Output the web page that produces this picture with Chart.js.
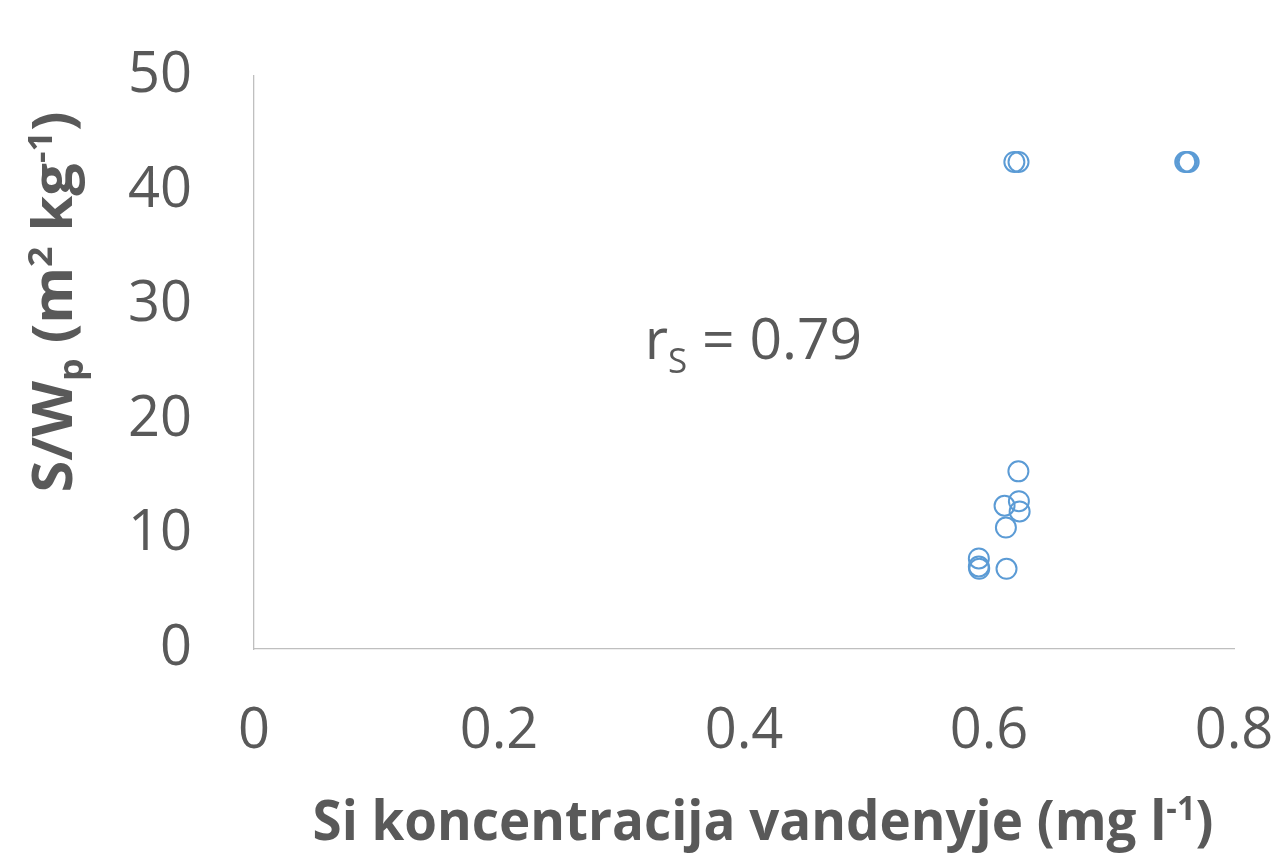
<!DOCTYPE html>
<html>
<head>
<meta charset="utf-8">
<title>S/Wp vs Si</title>
<script src="https://cdn.jsdelivr.net/npm/chart.js@4.4.1/dist/chart.umd.min.js"></script>
<style>
  html, body { margin: 0; padding: 0; background: #ffffff; }
  #wrap { width: 1288px; height: 853px; }
</style>
</head>
<body>
<div id="wrap"><canvas id="chart" width="1288" height="853"></canvas></div>
<script>
// Si concentration in water (mg l-1) and specific surface area S/Wp (m2 kg-1)
const siConcentration = [0.6207, 0.6241, 0.7602, 0.7616, 0.7630, 0.6240, 0.6127, 0.6244, 0.6250, 0.6138, 0.5917, 0.5917, 0.5920, 0.6143];
const surfaceArea     = [42.5,   42.5,   42.5,   42.5,   42.5,   15.5,   12.5,   12.9,   12.0,   10.6,   7.9,    7.2,    7.0,    7.0];

const xTickLabels = ['0', '0.2', '0.4', '0.6', '0.8'];
const yTickLabels = ['0', '10', '20', '30', '40', '50'];

// Spearman coefficient text and its anchor (data units)
const rsParts = ['r', 'S', ' = 0.79'];
const rsAnchor = { x: 0.319, y: 25.3 };

const TEXT = '#595959';
const FONT = "'Open Sans', 'DejaVu Sans', sans-serif";

const points = siConcentration.map((x, i) => ({ x: x, y: surfaceArea[i] }));

// Draws a run of text pieces (with super/subscripts) on a baseline at (0,0),
// optionally squeezed horizontally to a given width.
function drawRuns(ctx, runs, size, weight, targetWidth, align) {
  let total = 0;
  const widths = runs.map(r => {
    ctx.font = `${weight} ${Math.round(size * (r.scale || 1))}px ${FONT}`;
    const w = ctx.measureText(r.text).width;
    total += w;
    return w;
  });
  const sx = targetWidth ? targetWidth / total : 1;
  ctx.save();
  ctx.scale(sx, 1);
  let x = align === 'left' ? 0 : -total / 2;
  ctx.textAlign = 'left';
  ctx.textBaseline = 'alphabetic';
  runs.forEach((r, i) => {
    ctx.font = `${weight} ${Math.round(size * (r.scale || 1))}px ${FONT}`;
    ctx.fillText(r.text, x, (r.shift || 0) * size);
    x += widths[i];
  });
  ctx.restore();
}

const labelsPlugin = {
  id: 'labelsPlugin',
  afterDraw(chart) {
    const ctx = chart.ctx;
    ctx.save();
    ctx.fillStyle = TEXT;

    // x-axis title
    ctx.save();
    ctx.translate(763, 840);
    drawRuns(ctx, [
      { text: 'Si koncentracija vandenyje (mg l' },
      { text: '-1', scale: 0.62, shift: -0.36 },
      { text: ')' }
    ], 55, 'bold', 901);
    ctx.restore();

    // y-axis title
    ctx.save();
    ctx.translate(72, 302);
    ctx.rotate(-Math.PI / 2);
    drawRuns(ctx, [
      { text: 'S/W' },
      { text: 'p', scale: 0.62, shift: 0.2 },
      { text: ' (m' },
      { text: '2', scale: 0.62, shift: -0.36 },
      { text: ' kg' },
      { text: '-1', scale: 0.62, shift: -0.36 },
      { text: ')' }
    ], 55, 'bold', 381);
    ctx.restore();

    // correlation coefficient
    const xs = chart.scales.x, ys = chart.scales.y;
    ctx.save();
    ctx.translate(xs.getPixelForValue(rsAnchor.x), ys.getPixelForValue(rsAnchor.y));
    drawRuns(ctx, [
      { text: rsParts[0] },
      { text: rsParts[1], scale: 0.62, shift: 0.24 },
      { text: rsParts[2] }
    ], 57, 'normal', null, 'left');
    ctx.restore();

    ctx.restore();
  }
};

// tick labels may overhang the plot edges freely
function noOverhang(scale) {
  scale.paddingTop = 0;
  scale.paddingBottom = 0;
  scale.paddingLeft = 0;
  scale.paddingRight = 0;
}

new Chart(document.getElementById('chart'), {
  type: 'scatter',
  data: {
    datasets: [{
      data: points,
      pointStyle: 'circle',
      pointRadius: 10,
      pointHoverRadius: 10,
      borderWidth: 2,
      borderColor: '#5B9BD5',
      backgroundColor: 'rgba(0,0,0,0)'
    }]
  },
  options: {
    responsive: false,
    animation: false,
    events: [],
    layout: { padding: { top: 76, right: 54, left: 0, bottom: 0 } },
    plugins: { legend: { display: false }, tooltip: { enabled: false } },
    scales: {
      x: {
        type: 'linear',
        min: 0, max: 0.8,
        afterFit(scale) { scale.height = 204; noOverhang(scale); },
        afterBuildTicks(scale) {
          scale.ticks = xTickLabels.map(v => ({ value: parseFloat(v) }));
        },
        grid: { display: false, drawTicks: false },
        border: { display: true, color: '#BFBFBF', width: 1.3 },
        ticks: {
          padding: 49,
          color: TEXT,
          font: { family: FONT, size: 56 },
          maxRotation: 0,
          callback: (v, i) => xTickLabels[i]
        }
      },
      y: {
        type: 'linear',
        min: 0, max: 50,
        afterFit(scale) { scale.width = 254; noOverhang(scale); },
        afterBuildTicks(scale) {
          scale.ticks = yTickLabels.map(v => ({ value: parseFloat(v) }));
        },
        grid: { display: false, drawTicks: false },
        border: { display: true, color: '#BFBFBF', width: 1.3 },
        ticks: {
          padding: 62,
          color: TEXT,
          font: { family: FONT, size: 56 },
          callback: (v, i) => yTickLabels[i]
        }
      }
    }
  },
  plugins: [labelsPlugin]
});
</script>
</body>
</html>
